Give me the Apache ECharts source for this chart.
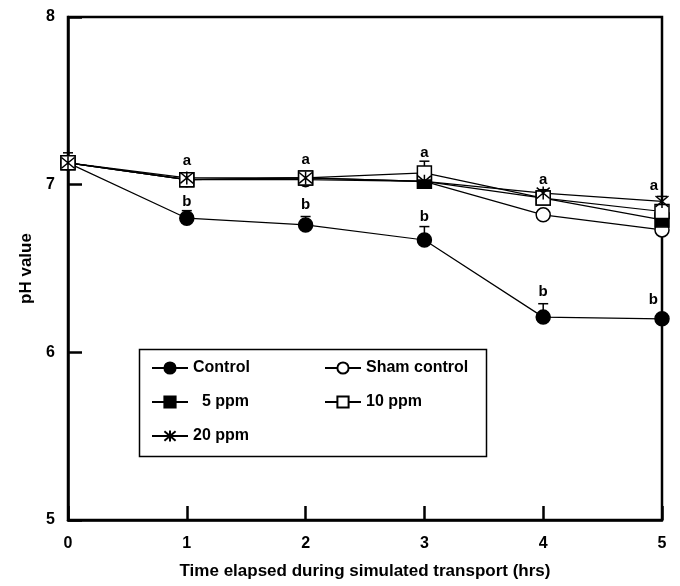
<!DOCTYPE html>
<html>
<head>
<meta charset="utf-8">
<script src="https://cdn.jsdelivr.net/npm/echarts@6/dist/echarts.min.js"></script>
<style>
  html, body { margin: 0; padding: 0; background: #fff; }
  #main { width: 680px; height: 586px; }
</style>
</head>
<body>
<div id="main"></div>
<script>
// hours
var hours = [0, 1, 2, 3, 4, 5];
// pH values
var control = [7.13, 6.80, 6.76, 6.67, 6.21, 6.20];
var sham = [7.13, 7.03, 7.03, 7.02, 6.82, 6.73];
var ppm5 = [7.13, 7.03, 7.04, 7.02, 6.92, 6.79];
var ppm10 = [7.13, 7.03, 7.04, 7.07, 6.92, 6.84];
var ppm20 = [7.13, 7.04, 7.04, 7.02, 6.95, 6.90];
// upper error (SE)
var controlErr = [0.06, 0.045, 0.05, 0.08, 0.08, 0.02];
var ppm10Err = [0, 0.02, 0.03, 0.07, 0.02, 0.02];
var ppm20Err = [0, 0.02, 0.02, 0.02, 0.02, 0.03];
// significance letters [hour, pH, letter]
var letters = [
  [1, 7.14, 'a'], [2, 7.15, 'a'], [3, 7.19, 'a'], [4, 7.03, 'a'], [5, 6.99, 'a'],
  [1, 6.90, 'b'], [2, 6.88, 'b'], [3, 6.81, 'b'], [4, 6.36, 'b'], [5, 6.31, 'b']
];
var yTicks = [5, 6, 7, 8];

var font = 'Liberation Sans, Arial, sans-serif';
var star = 'path://M0,0L10,10M10,0L0,10M5,-1L5,11';

function pairs(ys) {
  return hours.map(function (h, i) { return [h, ys[i]]; });
}
function errData(ys, errs) {
  return hours.map(function (h, i) { return [h, ys[i], errs[i]]; });
}

function errorBars(api) {
  var x = api.value(0), y = api.value(1), e = api.value(2);
  if (!e) return;
  var p0 = api.coord([x, y]);
  var p1 = api.coord([x, y + e]);
  return {
    type: 'group',
    children: [
      { type: 'line', shape: { x1: p0[0], y1: p0[1], x2: p1[0], y2: p1[1] }, style: { stroke: '#000', lineWidth: 1.5 } },
      { type: 'line', shape: { x1: p1[0] - 5, y1: p1[1], x2: p1[0] + 5, y2: p1[1] }, style: { stroke: '#000', lineWidth: 1.5 } }
    ]
  };
}

function lineSeries(name, data, symbol, fill) {
  return {
    name: name,
    type: 'line',
    data: pairs(data),
    symbol: symbol,
    symbolSize: symbol === star ? 13 : 14,
    showAllSymbols: true,
    lineStyle: { color: '#000', width: 1.2 },
    itemStyle: { color: fill, borderColor: '#000', borderWidth: 1.5 },
    emphasis: { disabled: true },
    z: 3
  };
}

var chart = echarts.init(document.getElementById('main'));
chart.setOption({
  backgroundColor: '#fff',
  animation: false,
  textStyle: { fontFamily: font },
  grid: {
    left: 68, right: 18, top: 17, bottom: 66,
    show: true, borderColor: '#000', borderWidth: 2.5, backgroundColor: 'transparent'
  },
  xAxis: {
    type: 'value', min: 0, max: 5, interval: 1,
    name: 'Time elapsed during simulated transport (hrs)',
    nameLocation: 'middle', nameGap: 43,
    nameTextStyle: { color: '#000', fontWeight: 'bold', fontSize: 17, fontFamily: font },
    axisLine: { lineStyle: { color: '#000', width: 2.5 } },
    axisTick: { inside: true, length: 14, lineStyle: { color: '#000', width: 2.5 } },
    axisLabel: { color: '#000', fontWeight: 'bold', fontSize: 16, margin: 16, fontFamily: font },
    splitLine: { show: false }
  },
  yAxis: {
    type: 'value', min: yTicks[0], max: yTicks[yTicks.length - 1], interval: 1,
    name: 'pH value',
    nameLocation: 'middle', nameGap: 29, nameRotate: 90,
    nameTextStyle: { color: '#000', fontWeight: 'bold', fontSize: 17, fontFamily: font },
    axisLine: { show: true, lineStyle: { color: '#000', width: 2.5 } },
    axisTick: { show: true, inside: true, length: 14, lineStyle: { color: '#000', width: 2.5 } },
    axisLabel: { color: '#000', fontWeight: 'bold', fontSize: 16, margin: 13, fontFamily: font },
    splitLine: { show: false }
  },
  legend: [
    {
      data: ['Control', '5 ppm', '20 ppm'],
      orient: 'vertical', left: 146, top: 355,
      itemWidth: 36, itemHeight: 14, itemGap: 18,
      formatter: function (n) { return n === '5 ppm' ? '  5 ppm' : n; },
      textStyle: { color: '#000', fontWeight: 'bold', fontSize: 16, fontFamily: font },
      selectedMode: false
    },
    {
      data: ['Sham control', '10 ppm'],
      orient: 'vertical', left: 319, top: 355,
      itemWidth: 36, itemHeight: 14, itemGap: 18,
      textStyle: { color: '#000', fontWeight: 'bold', fontSize: 16, fontFamily: font },
      selectedMode: false
    }
  ],
  graphic: [
    {
      type: 'rect', left: 137, top: 347,
      shape: { width: 347, height: 107 },
      style: { fill: 'none', stroke: '#000', lineWidth: 1.5 }
    }
  ],
  series: [
    {
      type: 'custom', renderItem: function (p, api) { return errorBars(api); },
      data: errData(control, controlErr), z: 2, silent: true
    },
    {
      type: 'custom', renderItem: function (p, api) { return errorBars(api); },
      data: errData(ppm10, ppm10Err), z: 2, silent: true
    },
    {
      type: 'custom', renderItem: function (p, api) { return errorBars(api); },
      data: errData(ppm20, ppm20Err), z: 2, silent: true
    },
    lineSeries('Control', control, 'circle', '#000'),
    lineSeries('Sham control', sham, 'circle', '#fff'),
    lineSeries('5 ppm', ppm5, 'rect', '#000'),
    lineSeries('10 ppm', ppm10, 'rect', '#fff'),
    lineSeries('20 ppm', ppm20, star, '#fff'),
    {
      type: 'custom',
      silent: true,
      z: 5,
      data: letters,
      renderItem: function (p, api) {
        var x = api.value(0);
        var pt = api.coord([x, api.value(1)]);
        var last = x === hours[hours.length - 1];
        return {
          type: 'text',
          x: last ? pt[0] - 4 : pt[0],
          y: pt[1],
          style: {
            text: letters[p.dataIndex][2],
            fill: '#000',
            font: 'bold 15px ' + font,
            align: last ? 'right' : 'center',
            verticalAlign: 'middle'
          }
        };
      }
    }
  ]
});
</script>
</body>
</html>
